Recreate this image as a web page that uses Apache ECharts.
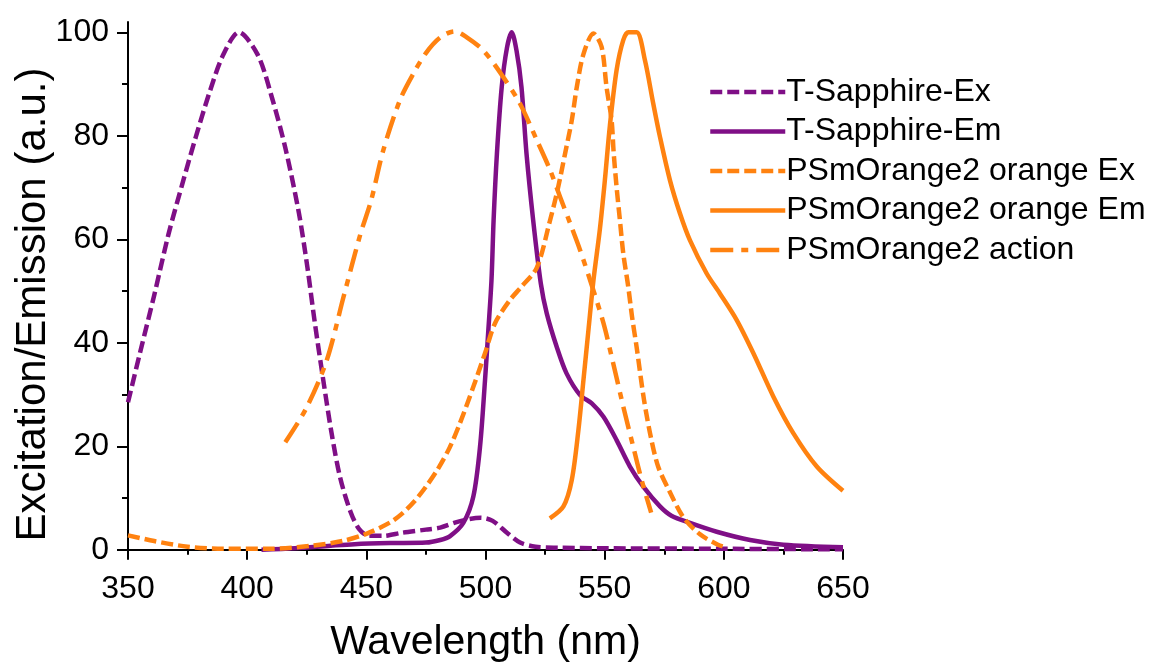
<!DOCTYPE html>
<html>
<head>
<meta charset="utf-8">
<script src="https://cdn.jsdelivr.net/npm/echarts@6/dist/echarts.min.js"></script>
<style>
html,body{margin:0;padding:0;background:#fff;}
#main{width:1149px;height:669px;}
</style>
</head>
<body>
<div id="main"></div>
<script>
// spectra: [wavelength nm, intensity a.u.]
var tsEx = [[350,28.5],[355,38],[361,49.2],[367,61],[372.6,70.4],[378.4,79.7],[384.2,88.4],[390,95.7],[396.5,100],
	[404.4,95.7],[410.2,87.7],[416,77.7],[421.7,65.1],[425.3,54.5],[428.2,44.5],[431.8,33.2],[435.4,22.6],[439,14],
	[443.4,7.3],[447,4],[451,2.7],[457,2.7],[465,3.3],[475,3.9],[481,4.3],[489,5.5],[498,6.2],[503,5.6],[509,3.3],
	[514.5,1.4],[521,0.6],[530,0.4],[550,0.3],[600,0.2],[650,0.1]];
var tsEm = [[406,0],[420,0.3],[435,0.8],[445,1.1],[460,1.3],[475,1.4],[481,1.9],[485,2.6],[490.7,5.2],[494.9,10.3],
	[497.7,19.9],[499.8,32.8],[501.2,42.5],[502.5,52],[503.4,63.7],[504.8,76.6],[506.8,89.4],[509,97],[511,100],
	[513,96.5],[515.1,89.4],[517.2,76.6],[520,63.7],[523.2,51.5],[525.7,45.7],[529.9,39.2],[534,34.1],[539.7,29.9],
	[544.6,28.3],[549.5,25.7],[555,21.2],[560.6,16.1],[566.2,12.2],[573.2,8.4],[578,6.6],[585.8,5.2],[597,3.5],
	[611,1.9],[625,1],[650,0.5]];
var poEx = [[350,2.8],[361,1.7],[375,0.6],[390,0.2],[410,0.2],[427,0.8],[440,1.7],[450,3.1],[460,5.3],[465,7],
	[470,9.3],[475,12.2],[480,15.6],[485,19.8],[489.3,24.5],[494.9,31.5],[499.8,38],[504,43.8],[510.3,48.3],[515,50.8],
	[521.5,54.5],[527.1,63.7],[530.5,70.1],[533.4,76.6],[536.2,83],[538.3,89.4],[541.1,95.8],[545.3,99.8],
	[548.7,97.2],[550.8,89.4],[552.9,83],[553.8,76.6],[555,70.1],[556.4,63.7],[557.8,57.3],[559.9,50.8],[561.5,45],
	[563.4,39.2],[566.5,29],[569.5,21.5],[572.5,16],[577,11.5],[583,6.3],[590,3],[597.5,1],[601,0.5]];
var poEm = [[527,6.1],[532.7,8.4],[536.2,13.5],[539,23.2],[541.1,32.8],[543.2,42.5],[545.3,52.1],[548,62],[550.1,71.5],
	[552.2,82],[555,92.7],[557.8,98.5],[560,100],[563.4,100],[566.9,94.6],[570.4,86.2],[573.2,79.8],[577.4,71.4],
	[581.6,65],[585.8,59.8],[592.8,53.4],[598.4,49.5],[605.4,44.4],[612.4,38],[620.8,29.6],[629.2,22.5],[639,16.1],
	[650,11.4]];
var poAct = [[416,20.8],[424.6,27.2],[433.3,36.5],[440.5,49],[447.5,61],[452,67.5],[457.1,77.2],[464.1,86.9],
	[469.7,92],[475,96],[481,99],[487,100.2],[492,99.1],[499.1,96.5],[507.4,91.4],[514.5,86.2],[521.5,79.2],
	[527.1,73.4],[531.3,68.2],[535.5,63.1],[539.7,57.9],[543.9,52.1],[549.5,43.8],[553.6,36],[557.8,27.7],
	[562,19.9],[565.5,13.5],[569.5,7.2]];

var names = ['T-Sapphire-Ex','T-Sapphire-Em','PSmOrange2 orange Ex','PSmOrange2 orange Em','PSmOrange2 action'];
var yMajor = [0,20,40,60,80,100];
var yMinor = [10,30,50,70,90];

var purple = '#7f0f86';
var orange = '#ff8210';
var font = '"Liberation Sans", Arial, sans-serif';

function mkSeries(name, data, color, dash){
	return {
		name: name,
		type: 'line',
		data: data,
		yAxisIndex: 0,
		symbol: 'none',
		smooth: 0.3,
		lineStyle: {color: color, width: 4.5, type: dash, cap: 'butt', join: 'round'},
		itemStyle: {color: color}
	};
}

var chart = echarts.init(document.getElementById('main'));
chart.setOption({
	animation: false,
	backgroundColor: '#fff',
	grid: {left: 128, right: 306, top: 22, bottom: 114, outerBoundsMode: 'none'},
	legend: {
		orient: 'vertical',
		left: 703,
		top: 71,
		itemWidth: 75,
		itemHeight: 20,
		itemGap: 7.5,
		itemStyle: {opacity: 0},
		lineStyle: {width: 4.5},
		textStyle: {fontFamily: font, fontSize: 32, lineHeight: 32, color: '#000', padding: [0,0,0,-4]},
		data: names
	},
	xAxis: {
		type: 'value',
		min: 350,
		max: 650,
		interval: 50,
		name: 'Wavelength (nm)',
		nameLocation: 'middle',
		nameGap: 67,
		nameMoveOverlap: false,
		nameTextStyle: {fontFamily: font, fontSize: 41, color: '#000'},
		axisLine: {lineStyle: {color: '#000', width: 2}},
		axisTick: {length: 10, lineStyle: {color: '#000', width: 2}},
		minorTick: {show: true, splitNumber: 2, length: 5, lineStyle: {color: '#000', width: 2}},
		axisLabel: {fontFamily: font, fontSize: 32, color: '#000', margin: 18},
		splitLine: {show: false}
	},
	yAxis: [{
		type: 'value',
		min: -1,
		max: 102,
		name: 'Excitation/Emission (a.u.)',
		nameLocation: 'middle',
		nameGap: 74,
		nameMoveOverlap: false,
		nameTextStyle: {fontFamily: font, fontSize: 42, color: '#000', padding: [0, 32, 0, 0]},
		axisLine: {show: true, lineStyle: {color: '#000', width: 2}},
		axisTick: {show: true, length: 11, customValues: yMajor, lineStyle: {color: '#000', width: 2}},
		axisLabel: {fontFamily: font, fontSize: 32, color: '#000', margin: 19, customValues: yMajor},
		splitLine: {show: false}
	}, {
		type: 'value',
		min: -1,
		max: 102,
		position: 'left',
		axisLine: {show: false},
		axisTick: {show: true, length: 6, customValues: yMinor, lineStyle: {color: '#000', width: 2}},
		axisLabel: {show: false},
		splitLine: {show: false}
	}],
	series: [
		mkSeries(names[0], tsEx, purple, [12, 5]),
		mkSeries(names[1], tsEm, purple, 'solid'),
		mkSeries(names[2], poEx, orange, [12, 5]),
		mkSeries(names[3], poEm, orange, 'solid'),
		mkSeries(names[4], poAct, orange, [23, 8, 7, 8])
	]
});
</script>
</body>
</html>
